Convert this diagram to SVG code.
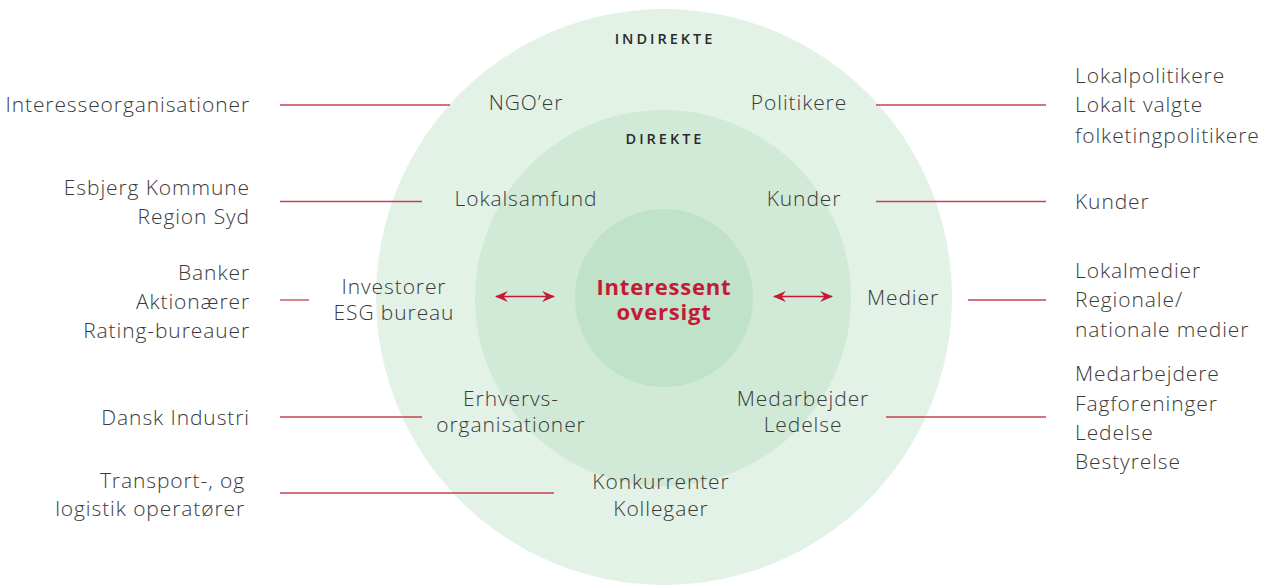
<svg xmlns="http://www.w3.org/2000/svg" width="1268" height="585" viewBox="0 0 1268 585">
<defs>
<style>
.t{font-family:"Open Sans","Liberation Sans",sans-serif;font-weight:300;font-size:21px;letter-spacing:0.9px;fill:#3a3a3a}
.r{text-anchor:end}
.m{text-anchor:middle}
.h{font-family:"Open Sans","Liberation Sans",sans-serif;font-weight:600;font-size:14.5px;fill:#2a2a2a;letter-spacing:3px;text-anchor:middle}
.c{font-family:"Open Sans","Liberation Sans",sans-serif;font-weight:700;font-size:22px;letter-spacing:0.8px;fill:#c41a35;text-anchor:middle}
.ln{stroke:#c8404f;stroke-width:1.3;fill:none}
.ar{stroke:#c41a35;stroke-width:1.6;fill:none}
</style>
<marker id="ah" viewBox="0 0 12 10" refX="11" refY="5" markerWidth="13" markerHeight="11" orient="auto-start-reverse" markerUnits="userSpaceOnUse">
<path d="M0,0 L12,5 L0,10 L4,5 z" fill="#c41a35"/>
</marker>
</defs>
<rect width="1268" height="585" fill="#ffffff"/>
<g id="rings">
<circle cx="664" cy="297" r="288" fill="#e2f2e6"/>
<circle cx="663" cy="298" r="188" fill="#d1eAd7"/>
<circle cx="664" cy="298" r="89" fill="#bfe2c8"/>
</g>
<g id="connectors">
<line class="ln" x1="280" y1="105" x2="450" y2="105"/>
<line class="ln" x1="876" y1="105" x2="1046" y2="105"/>
<line class="ln" x1="280" y1="201.5" x2="422" y2="201.5"/>
<line class="ln" x1="876" y1="201.5" x2="1046" y2="201.5"/>
<line class="ln" x1="280" y1="300" x2="309" y2="300"/>
<line class="ln" x1="968" y1="300" x2="1046" y2="300"/>
<line class="ln" x1="280" y1="417" x2="422" y2="417"/>
<line class="ln" x1="886" y1="417" x2="1046" y2="417"/>
<line class="ln" x1="280" y1="493" x2="554" y2="493"/>
<line class="ar" x1="496" y1="296.5" x2="554" y2="296.5" marker-start="url(#ah)" marker-end="url(#ah)"/>
<line class="ar" x1="774" y1="296.5" x2="832" y2="296.5" marker-start="url(#ah)" marker-end="url(#ah)"/>
</g>
<g id="labels-rings">
<text class="h" x="665" y="44">INDIREKTE</text>
<text class="h" x="665" y="144">DIREKTE</text>
</g>
<g id="center">
<text class="c" x="664" y="295">Interessent</text>
<text class="c" x="664" y="320">oversigt</text>
</g>
<g id="ngo"><text class="t m" x="526" y="110">NGO’er</text></g>
<g id="politikere"><text class="t m" x="799" y="110">Politikere</text></g>
<g id="lokalsamfund"><text class="t m" x="526" y="206">Lokalsamfund</text></g>
<g id="kunder"><text class="t m" x="804" y="206">Kunder</text></g>
<g id="investorer"><text class="t m" x="394" y="294">Investorer</text><text class="t m" x="394" y="320">ESG bureau</text></g>
<g id="medier"><text class="t m" x="903" y="305">Medier</text></g>
<g id="erhverv"><text class="t m" x="511" y="406">Erhvervs-</text><text class="t m" x="511" y="432">organisationer</text></g>
<g id="medarbejder"><text class="t m" x="803" y="406">Medarbejder</text><text class="t m" x="803" y="432">Ledelse</text></g>
<g id="konkurrenter"><text class="t m" x="661" y="489">Konkurrenter</text><text class="t m" x="661" y="516">Kollegaer</text></g>
<g id="left-1"><text class="t r" x="250" y="112">Interesseorganisationer</text></g>
<g id="left-2"><text class="t r" x="250" y="195">Esbjerg Kommune</text><text class="t r" x="250" y="224">Region Syd</text></g>
<g id="left-3"><text class="t r" x="250" y="280">Banker</text><text class="t r" x="250" y="309">Aktionærer</text><text class="t r" x="250" y="338">Rating-bureauer</text></g>
<g id="left-4"><text class="t r" x="250" y="425">Dansk Industri</text></g>
<g id="left-5"><text class="t r" x="245" y="488">Transport-, og</text><text class="t r" x="245" y="516">logistik operatører</text></g>
<g id="right-1"><text class="t" x="1075" y="83">Lokalpolitikere</text><text class="t" x="1075" y="112">Lokalt valgte</text><text class="t" x="1075" y="143">folketingpolitikere</text></g>
<g id="right-2"><text class="t" x="1075" y="209">Kunder</text></g>
<g id="right-3"><text class="t" x="1075" y="278">Lokalmedier</text><text class="t" x="1075" y="307">Regionale/</text><text class="t" x="1075" y="337">nationale medier</text></g>
<g id="right-4"><text class="t" x="1075" y="381">Medarbejdere</text><text class="t" x="1075" y="411">Fagforeninger</text><text class="t" x="1075" y="440">Ledelse</text><text class="t" x="1075" y="469">Bestyrelse</text></g>
</svg>
